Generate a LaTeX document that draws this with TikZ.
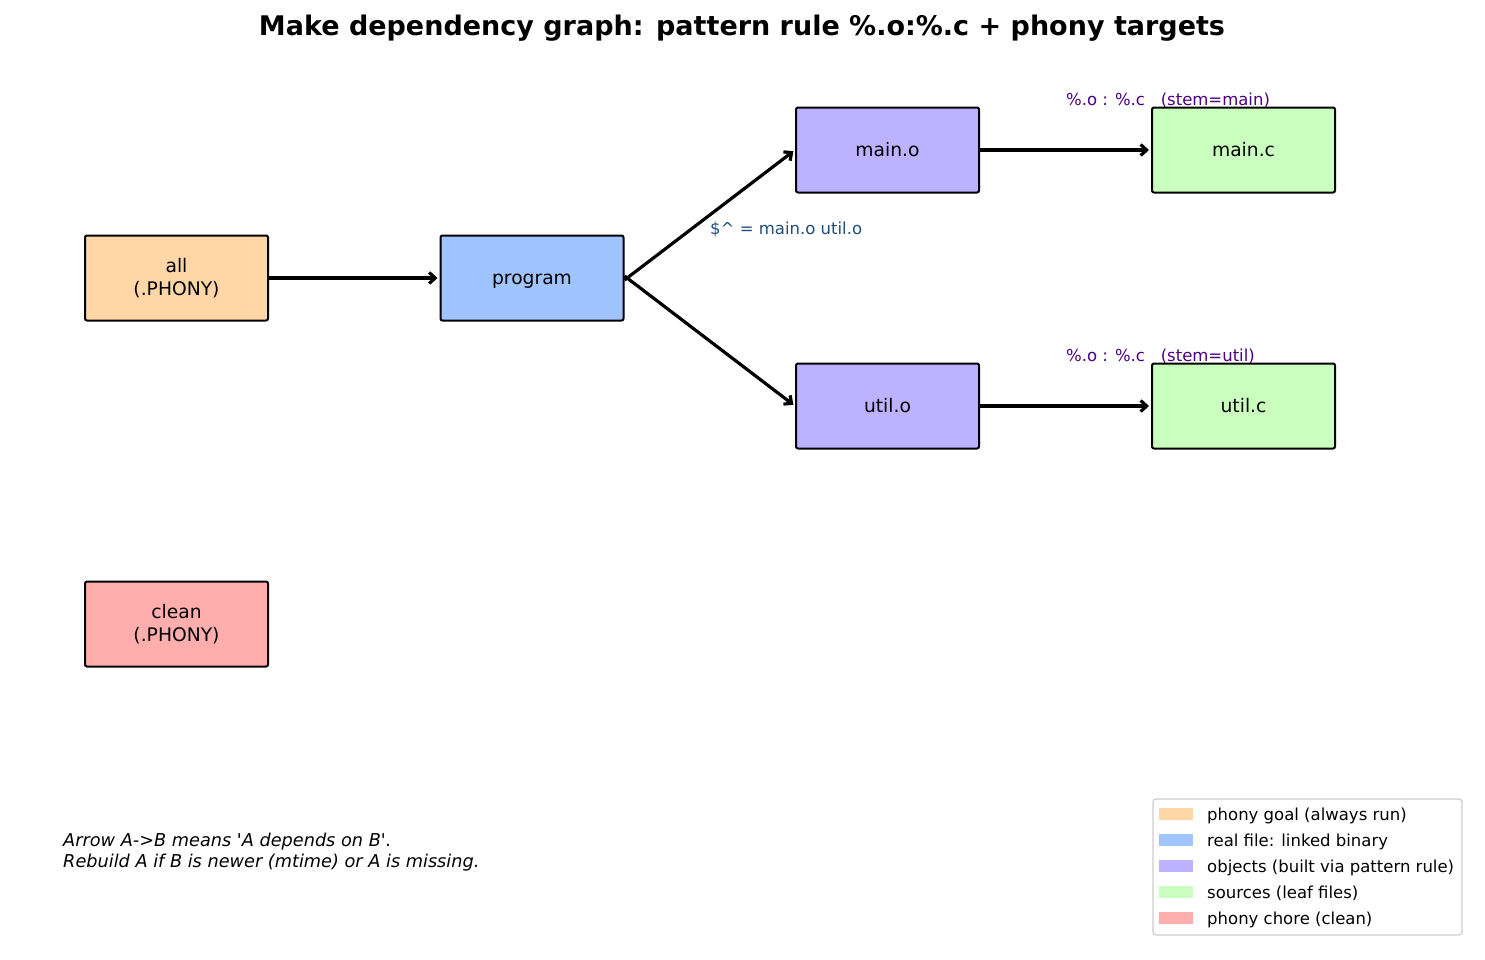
\documentclass[tikz,border=0pt]{standalone}
\usepackage{fontspec}
\setmainfont{DejaVu Sans}
\usetikzlibrary{arrows.meta}
\definecolor{cphony}{HTML}{FFD6A5}
\definecolor{creal}{HTML}{A0C4FF}
\definecolor{cobj}{HTML}{BDB2FF}
\definecolor{csrc}{HTML}{CAFFBF}
\definecolor{cclean}{HTML}{FFADAD}
\definecolor{cpat}{HTML}{4B0082}
\definecolor{cvar}{HTML}{1F4E79}
\tikzset{
  box/.style={draw=black, line width=2pt, rounded corners=2pt, minimum width=183pt, minimum height=85pt, inner sep=0pt, align=center, font=\fontsize{18.7}{22.5}\selectfont},
  dep/.style={line width=3.2pt, -{Straight Barb[length=6pt,width=11pt]}, shorten >=2pt},
  ann/.style={inner sep=0pt, anchor=west, font=\fontsize{16.5}{19}\selectfont},
  legpatch/.style={fill=#1, draw=none, minimum width=34pt, minimum height=12pt, inner sep=0pt},
  legtext/.style={inner sep=0pt, anchor=west, font=\fontsize{16.5}{19}\selectfont}
}
\begin{document}
\begin{tikzpicture}[x=1pt, y=-1pt]
\useasboundingbox (0,0) rectangle (1485,959);
\node[font=\fontsize{27}{32}\selectfont\bfseries] (title) at (742,28) {Make dependency graph: pattern rule \%.o:\%.c + phony targets};

\node[box, fill=cphony] (all) at (176.5,278) {all\\(.PHONY)};
\node[box, fill=creal] (program) at (532,278) {\raisebox{-6pt}[0pt][0pt]{program}};
\node[box, fill=cobj] (maino) at (887.5,150) {main.o};
\node[box, fill=cobj] (utilo) at (887.5,406) {util.o};
\node[box, fill=csrc] (mainc) at (1243.5,150) {main.c};
\node[box, fill=csrc] (utilc) at (1243.5,406) {util.c};
\node[box, fill=cclean] (clean) at (176.5,624) {clean\\(.PHONY)};

\draw[dep] (all.east) -- (program.west);
\draw[dep] ([yshift=-2pt]program.east) -- (maino.west);
\draw[dep] ([yshift=2pt]program.east) -- (utilo.west);
\draw[dep] (maino.east) -- (mainc.west);
\draw[dep] (utilo.east) -- (utilc.west);

\node[ann, text=cpat] (patmain) at (1066,100) {\%.o : \%.c \ \ (stem=main)};
\node[ann, text=cpat] (patutil) at (1066,356) {\%.o : \%.c \ \ (stem=util)};
\node[ann, text=cvar] (prereq) at (710,229) {\$\^{} = main.o util.o};

\node[inner sep=0pt, anchor=west, align=left, font=\fontsize{17.7}{21}\selectfont\itshape] (note) at (63,852) {Arrow A->B means \textquotesingle A depends on B\textquotesingle.\\Rebuild A if B is newer (mtime) or A is missing.};

\draw[draw=black!20, line width=1.2pt, rounded corners=3pt, fill=white] (1153,799) rectangle (1462,935);
\node[legpatch=cphony] (lp1) at (1176,814) {};
\node[legpatch=creal] (lp2) at (1176,840) {};
\node[legpatch=cobj] (lp3) at (1176,866) {};
\node[legpatch=csrc] (lp4) at (1176,892) {};
\node[legpatch=cclean] (lp5) at (1176,918) {};
\node[legtext] (lt1) at (1207,815.5) {phony goal (always run)};
\node[legtext] (lt2) at (1207,841.5) {real file: linked binary};
\node[legtext] (lt3) at (1207,867.5) {objects (built via pattern rule)};
\node[legtext] (lt4) at (1207,893.5) {sources (leaf files)};
\node[legtext] (lt5) at (1207,919.5) {phony chore (clean)};
\end{tikzpicture}
\end{document}
